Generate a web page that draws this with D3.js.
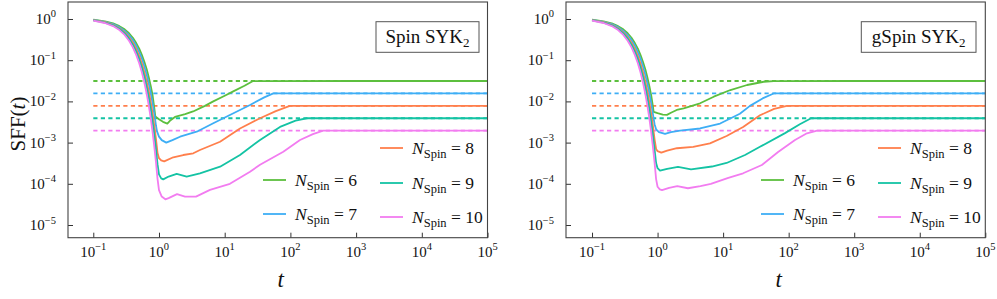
<!DOCTYPE html>
<html><head><meta charset="utf-8">
<script src="https://cdn.jsdelivr.net/npm/d3@7"></script>
<style>body{margin:0;background:#fff}svg{display:block}text{font-family:"Liberation Serif","DejaVu Serif",serif;fill:#111}</style>
</head><body>
<script>
// ---------------- data ----------------
const spins = [6, 7, 8, 9, 10];
const colors = ["#5cbf3e", "#3eaef5", "#ff7f4c", "#14c3a4", "#f27cf0"];
const plateau = [0.03125, 0.015625, 0.0078, 0.0039, 0.00195];
const panelTitles = ["Spin SYK", "gSpin SYK"];
const xTicks = [1e-1, 1e0, 1e1, 1e2, 1e3, 1e4, 1e5];
const xTickExp = ["\u22121", "0", "1", "2", "3", "4", "5"];
const yTicks = [1e0, 1e-1, 1e-2, 1e-3, 1e-4, 1e-5];
const yTickExp = ["0", "\u22121", "\u22122", "\u22123", "\u22124", "\u22125"];

// early-time decay (shared by both models)
const tDrop = [0.1, 0.15, 0.2, 0.25, 0.3, 0.35, 0.4, 0.45, 0.5, 0.55, 0.6, 0.65, 0.7, 0.75, 0.8];
const drop6  = [0.97, 0.88, 0.78, 0.67, 0.56, 0.45, 0.35, 0.26, 0.19, 0.133, 0.090, 0.060, 0.038, 0.0234, 0.0139];
const drop7  = [0.95, 0.855, 0.75, 0.635, 0.515, 0.405, 0.308, 0.225, 0.158, 0.108, 0.0705, 0.0445, 0.027, 0.0158, 0.0090];
const drop8  = [0.94, 0.835, 0.72, 0.596, 0.474, 0.362, 0.265, 0.187, 0.126, 0.0815, 0.0506, 0.0301, 0.0172, 0.0094, 0.0050];
const drop9  = [0.93, 0.82, 0.70, 0.57, 0.446, 0.333, 0.238, 0.162, 0.106, 0.066, 0.0394, 0.0225, 0.0123, 0.0064, 0.0032];
const drop10 = [0.91, 0.80, 0.673, 0.539, 0.41, 0.297, 0.205, 0.135, 0.084, 0.050, 0.0283, 0.0153, 0.0078, 0.0038, 0.00177];

// Spin SYK2 (left) : [t, SFF] after the drop
const spin6  = [[0.85,0.0068],[0.88,0.0043],[1.0,0.0037],[1.15,0.0032],[1.34,0.0029],[1.5,0.0035],[1.75,0.0042],[2.5,0.0049],[3.3,0.0057],[5,0.0078],[6.7,0.0100],[10,0.0137],[13.5,0.0175],[20,0.024],[27,0.0312]];
const spin7  = [[0.85,0.0049],[0.9,0.0026],[0.93,0.0019],[1.0,0.0014],[1.1,0.00115],[1.29,0.001],[1.6,0.00115],[2.09,0.00139],[3.75,0.00184],[6.7,0.00294],[12,0.00468],[24.3,0.0082],[40,0.0125],[55,0.0156]];
const spin8  = [[0.85,0.0025],[0.9,0.00121],[0.95,0.00056],[1.0,0.00042],[1.08,0.00037],[1.2,0.00035],[1.65,0.00044],[2.34,0.0005],[3.33,0.00055],[4.2,0.00066],[8.5,0.00105],[17.1,0.0022],[34.5,0.0039],[60,0.0058],[98,0.0078]];
const spin9  = [[0.85,0.00152],[0.9,0.00069],[0.95,0.0003],[1.0,0.00017],[1.08,0.000135],[1.16,0.000128],[1.4,0.00015],[1.86,0.000175],[2.64,0.00015],[4.2,0.00018],[8.5,0.00026],[17.1,0.0005],[34.5,0.00116],[69.5,0.0024],[120,0.0034],[177,0.0039]];
const spin10 = [[0.85,0.00078],[0.9,0.00033],[0.95,0.000132],[1.0,0.00007],[1.1,0.000049],[1.25,0.000042],[1.4,0.000045],[1.88,0.000056],[2.49,0.000049],[3.66,0.000049],[5.97,0.000071],[12,0.0001],[24.3,0.000197],[34.5,0.00029],[78,0.0006],[140,0.00116],[220,0.0016],[316,0.00195]];

// gSpin SYK2 (right)
const gspin6  = [[0.85,0.0075],[0.87,0.0056],[1.0,0.0052],[1.2,0.0048],[1.39,0.0047],[1.6,0.0053],[1.96,0.0062],[2.5,0.0068],[4.45,0.009],[7.2,0.013],[12.9,0.0189],[23.2,0.025],[41.7,0.030],[59,0.0312]];
const gspin7  = [[0.85,0.0049],[0.9,0.0028],[0.95,0.0021],[1.05,0.0018],[1.3,0.00162],[1.6,0.0018],[2.2,0.00195],[4.45,0.0022],[9,0.0029],[18,0.005],[25.7,0.0078],[40,0.0118],[59,0.0156]];
const gspin8  = [[0.85,0.0025],[0.9,0.0012],[0.95,0.0007],[1.0,0.00062],[1.14,0.00057],[1.4,0.00064],[1.97,0.00073],[3.5,0.00079],[6.3,0.00096],[11.3,0.00145],[20.2,0.0024],[36.5,0.0046],[60,0.0066],[94,0.0078]];
const gspin9  = [[0.85,0.00152],[0.9,0.00069],[0.95,0.00032],[1.0,0.00024],[1.09,0.00021],[1.4,0.00023],[2.05,0.000256],[3.24,0.000225],[6.76,0.000263],[11.3,0.00032],[21.6,0.0005],[36.5,0.00079],[88,0.0017],[148,0.0028],[220,0.0039]];
const gspin10 = [[0.85,0.00078],[0.9,0.00033],[0.95,0.00013],[1.0,0.000085],[1.08,0.000073],[1.17,0.00007],[1.5,0.00008],[2.0,0.000088],[2.9,0.000078],[4.5,0.000088],[6.5,0.0001],[12,0.00014],[20.2,0.00018],[39,0.000286],[69,0.00059],[125,0.00116],[190,0.00168],[272,0.00195]];

const plateauT = [1e3, 1e4, 1e5];
const drops = [drop6, drop7, drop8, drop9, drop10];
const tails = [[spin6, spin7, spin8, spin9, spin10], [gspin6, gspin7, gspin8, gspin9, gspin10]];

// ---------------- drawing ----------------
const W = 997, H = 299;
const svg = d3.select("body").append("svg").attr("width", W).attr("height", H);
const yTop = 2, yBot = 237.7;
const panels = [
  {x0: 68, x1: 487.5, lo: -1.385, box: [376, 479]},
  {x0: 566, x1: 985.3, lo: -1.397, box: [861.3, 976]}
];
const y = d3.scaleLog().domain([Math.pow(10, -5.308), Math.pow(10, 0.4126)]).range([yBot, yTop]);

panels.forEach((p, pi) => {
  const x = d3.scaleLog().domain([Math.pow(10, p.lo), 1e5]).range([p.x0, p.x1]);
  const g = svg.append("g");
  const clipId = "clip" + pi;
  svg.append("clipPath").attr("id", clipId).append("rect")
    .attr("x", p.x0).attr("y", yTop).attr("width", p.x1 - p.x0).attr("height", yBot - yTop);
  const plot = g.append("g").attr("clip-path", `url(#${clipId})`);
  const line = d3.line().x(d => x(d[0])).y(d => y(d[1]));

  // dashed plateau reference lines
  spins.forEach((n, i) => {
    plot.append("path").datum([[0.1, plateau[i]], [1e5, plateau[i]]])
      .attr("d", line).attr("fill", "none").attr("stroke", colors[i])
      .attr("stroke-width", 1.9).attr("stroke-dasharray", "4.2,3.3");
  });
  // solid curves
  spins.forEach((n, i) => {
    const pts = tDrop.map((t, k) => [t, drops[i][k]])
      .concat(tails[pi][i])
      .concat(plateauT.map(t => [t, plateau[i]]));
    plot.append("path").datum(pts).attr("d", line).attr("fill", "none")
      .attr("stroke", colors[i]).attr("stroke-width", 1.8).attr("stroke-linejoin", "round");
  });

  // axes (inward ticks)
  const ax = g.append("g").attr("transform", `translate(0,${yBot})`)
    .call(d3.axisBottom(x).tickValues(xTicks).tickFormat("").tickSizeInner(-5).tickSizeOuter(0));
  const ay = g.append("g").attr("transform", `translate(${p.x0},0)`)
    .call(d3.axisLeft(y).tickValues(yTicks).tickFormat("").tickSizeInner(-5).tickSizeOuter(0));
  [ax, ay].forEach(a => { a.select(".domain").remove(); a.selectAll("line").attr("stroke", "#333").attr("stroke-width", 1); });
  g.append("rect").attr("x", p.x0).attr("y", yTop).attr("width", p.x1 - p.x0).attr("height", yBot - yTop)
    .attr("fill", "none").attr("stroke", "#444").attr("stroke-width", 1.1);

  xTicks.forEach((t, k) => {
    const tx = g.append("text").attr("x", x(t)).attr("y", 256.5).attr("text-anchor", "middle").attr("font-size", 15);
    tx.append("tspan").text("10");
    tx.append("tspan").attr("dy", -6.5).attr("font-size", 10.5).text(xTickExp[k]);
  });
  yTicks.forEach((v, k) => {
    const tx = g.append("text").attr("x", p.x0 - 12).attr("y", y(v) + 5).attr("text-anchor", "end").attr("font-size", 15);
    tx.append("tspan").text("10");
    tx.append("tspan").attr("dy", -6.5).attr("font-size", 10.5).text(yTickExp[k]);
  });

  // x label
  g.append("text").attr("x", (p.x0 + p.x1) / 2 + 3).attr("y", 287).attr("text-anchor", "middle")
    .attr("font-size", 23).attr("font-style", "italic").text("t");

  // title box
  g.append("rect").attr("x", p.box[0]).attr("y", 21.7).attr("width", p.box[1] - p.box[0]).attr("height", 30.6)
    .attr("fill", "#fff").attr("stroke", "#555").attr("stroke-width", 1);
  const tt = g.append("text").attr("x", (p.box[0] + p.box[1]) / 2).attr("y", 43).attr("text-anchor", "middle").attr("font-size", 19);
  tt.append("tspan").text(panelTitles[pi]);
  tt.append("tspan").attr("dy", 4).attr("font-size", 13).text("2");

  // legend
  const lx = [p.x0 + 195, p.x0 + 312];
  const slots = [[0, 180], [0, 214], [1, 148], [1, 183], [1, 217]];
  spins.forEach((n, i) => {
    const [c, ly] = slots[i];
    g.append("line").attr("x1", lx[c]).attr("x2", lx[c] + 23).attr("y1", ly).attr("y2", ly)
      .attr("stroke", colors[i]).attr("stroke-width", 1.8);
    const tx = g.append("text").attr("x", lx[c] + 32).attr("y", ly + 5.5).attr("font-size", 17.5);
    tx.append("tspan").attr("font-style", "italic").text("N");
    tx.append("tspan").attr("dy", 4).attr("font-size", 12.5).text("Spin");
    tx.append("tspan").attr("dy", -4).text(" = " + n);
  });
});

// y label
const yl = svg.append("text").attr("transform", "translate(25,124) rotate(-90)").attr("text-anchor", "middle").attr("font-size", 21);
yl.append("tspan").text("SFF(");
yl.append("tspan").attr("font-style", "italic").text("t");
yl.append("tspan").text(")");
</script>
</body></html>
